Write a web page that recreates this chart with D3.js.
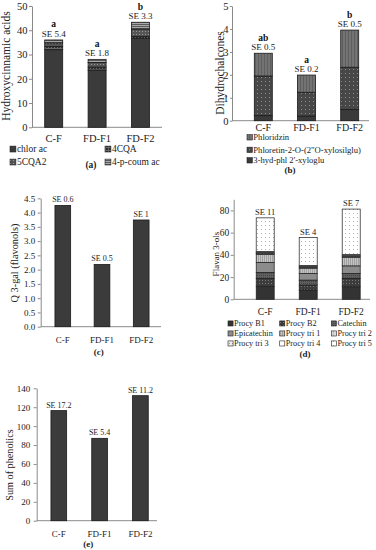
<!DOCTYPE html>
<html>
<head>
<meta charset="utf-8">
<script src="https://cdn.jsdelivr.net/npm/d3@7"></script>
<style>
  body { margin: 0; background: #fff; }
  svg { display: block; font-family: "Liberation Serif", "DejaVu Serif", serif; }
  .axis path, .axis line { stroke: #8a8a8a; }
  .axis text { fill: #222; }
</style>
</head>
<body>
<svg id="chart" width="376" height="550"></svg>
<script>
'use strict';
var categories = ["C-F", "FD-F1", "FD-F2"];

// (a) hydroxycinnamic acids, stacked bottom -> top
var hcaNames = ["chlor ac", "4CQA", "5CQA2", "4-p-coum ac"];
var chlorAc = [32.0, 23.6, 36.7];
var cqa4 = [1.3, 1.2, 0.8];
var cqa5 = [1.5, 1.9, 3.0];
var pCoumAc = [1.2, 1.3, 2.8];
var hcaSE = ["SE 5.4", "SE 1.8", "SE 3.3"];
var hcaLetters = ["a", "a", "b"];
var hcaTicks = [0, 10, 20, 30, 40, 50];

// (b) dihydrochalcones, stacked bottom -> top
var dhcNames = ["3-hyd-phl 2'-xyloglu", "Phloretin-2-O-(2\"O-xylosilglu)", "Phloridzin"];
var hydPhl = [0.22, 0.2, 0.49];
var phloretin = [1.73, 1.04, 1.84];
var phloridzin = [0.99, 0.75, 1.62];
var dhcSE = ["SE 0.5", "SE 0.2", "SE 0.5"];
var dhcLetters = ["ab", "a", "b"];
var dhcTicks = [0, 1, 2, 3, 4, 5];

// (c) flavonols
var q3gal = [4.25, 2.18, 3.74];
var q3galSE = ["SE 0.6", "SE 0.5", "SE 1"];
var q3galTicks = [0, 0.5, 1, 1.5, 2, 2.5, 3, 3.5, 4, 4.5];

// (d) flavan 3-ols, stacked bottom -> top
var flavNames = ["Procy B1", "Procy B2", "Catechin", "Epicatechin", "Procy tri 1", "Procy tri 2", "Procy tri 3", "Procy tri 4", "Procy tri 5"];
var procyB1 = [11.5, 8.3, 11.3];
var procyB2 = [7.3, 4.5, 7.5];
var catechin = [5.4, 4.5, 4.5];
var epicatechin = [9.0, 6.0, 6.8];
var procyTri1 = [7.2, 4.7, 7.5];
var procyTri2 = [1.0, 0.8, 1.0];
var procyTri3 = [0.8, 0.8, 0.8];
var procyTri4 = [0.8, 0.8, 0.8];
var procyTri5 = [30.3, 25.1, 41.0];
var flavSE = ["SE 11", "SE 4", "SE 7"];
var flavTicks = [0, 20, 40, 60, 80];

// (e) sum of phenolics
var phenolics = [116.4, 87.1, 132.2];
var phenolicsSE = ["SE 17.2", "SE 5.4", "SE 11.2"];
var phenolicsTicks = [0, 20, 40, 60, 80, 100, 120, 140];

var svg = d3.select("#chart");
var defs = svg.append("defs");

// fill patterns: base colour + small mark
function pattern(id, bg, kind, fg, size) {
    size = size || 3;
    var p = defs.append("pattern").attr("id", id)
            .attr("patternUnits", "userSpaceOnUse")
            .attr("width", size).attr("height", size);
    p.append("rect").attr("width", size).attr("height", size).attr("fill", bg);
    if (kind === "dot") {
        p.append("rect").attr("x", 1).attr("y", 1).attr("width", 1).attr("height", 1).attr("fill", fg);
    } else if (kind === "vline") {
        p.append("rect").attr("x", 0).attr("y", 0).attr("width", 1).attr("height", size).attr("fill", fg);
    } else if (kind === "hline") {
        p.append("rect").attr("x", 0).attr("y", 0).attr("width", size).attr("height", 1).attr("fill", fg);
    } else if (kind === "grid") {
        p.append("rect").attr("x", 0).attr("y", 0).attr("width", size).attr("height", 1).attr("fill", fg);
        p.append("rect").attr("x", 0).attr("y", 0).attr("width", 1).attr("height", size).attr("fill", fg);
    }
    return "url(#" + id + ")";
}

var hcaFills = [
    "#3b3b3b",
    pattern("pa2", "#2f2f2f", "grid", "#6a6a6a", 3),
    pattern("pa3", "#555", "dot", "#9a9a9a", 3),
    pattern("pa4", "#a8a8a8", "hline", "#5a5a5a", 2)
];
var dhcFills = [
    "#3a3a3a",
    pattern("pb2", "#474747", "dot", "#8c8c8c", 4),
    pattern("pb3", "#737373", "vline", "#5e5e5e", 3)
];
var flavFills = [
    "#333",
    pattern("pd2", "#3c3c3c", "dot", "#7a7a7a", 3),
    pattern("pd3", "#5f5f5f", "dot", "#454545", 2),
    "#8c8c8c",
    pattern("pd5", "#c4c4c4", "vline", "#a0a0a0", 2),
    pattern("pd6", "#dcdcdc", "vline", "#bdbdbd", 3),
    pattern("pd7", "#ececec", "dot", "#999", 3),
    "#fff",
    pattern("pd9", "#fff", "dot", "#b0b0b0", 4)
];

function drawPanel(c) {
    var g = svg.append("g");
    var y = d3.scaleLinear().domain([0, c.max]).range([c.y0, c.y1]);
    var x = d3.scaleBand().domain(categories)
            .range([c.bandStart, c.bandStart + c.step * categories.length]);

    // y axis
    var yAxis = d3.axisLeft(y).tickValues(c.ticks).tickSize(c.tickLen).tickSizeOuter(0)
            .tickPadding(c.tickPad).tickFormat(d3.format(c.fmt || "d"));
    g.append("g").attr("class", "axis")
            .attr("transform", "translate(" + c.axisX + ",0)")
            .call(yAxis)
            .attr("font-family", null).attr("font-size", c.tickSize);

    // x axis line + category labels
    g.append("line").attr("x1", c.axisX).attr("x2", c.axisEnd)
            .attr("y1", c.y0).attr("y2", c.y0).attr("stroke", "#8a8a8a");
    var xa = g.append("g").attr("class", "axis")
            .attr("transform", "translate(0," + c.y0 + ")")
            .call(d3.axisBottom(x).tickSize(0).tickPadding(c.catPad))
            .attr("font-family", null).attr("font-size", c.catSize);
    xa.select(".domain").remove();

    // bars
    var rows = categories.map(function (cat, i) {
        var r = {cat: cat};
        c.series.forEach(function (s, k) { r["s" + k] = s[i]; });
        return r;
    });
    var keys = c.series.map(function (s, k) { return "s" + k; });
    var stacked = d3.stack().keys(keys)(rows);
    g.selectAll("g.layer").data(stacked).enter().append("g")
            .attr("fill", function (d, k) { return c.fills[k]; })
            .selectAll("rect").data(function (d) { return d; }).enter().append("rect")
            .attr("x", function (d) { return x(d.data.cat) + (x.bandwidth() - c.barW) / 2; })
            .attr("width", c.barW)
            .attr("y", function (d) { return y(d[1]); })
            .attr("height", function (d) { return y(d[0]) - y(d[1]); })
            .attr("stroke", "#1a1a1a").attr("stroke-width", c.strokeW || 0.8);

    var totals = rows.map(function (r) {
        return keys.reduce(function (a, k) { return a + r[k]; }, 0);
    });
    g.selectAll("text.se").data(c.se).enter().append("text")
            .attr("x", function (d, i) { return x(categories[i]) + x.bandwidth() / 2; })
            .attr("y", function (d, i) { return y(totals[i]) - 3; })
            .attr("text-anchor", "middle").attr("font-size", c.seSize).attr("fill", "#222")
            .text(function (d) { return d; });
    if (c.letters) {
        g.selectAll("text.let").data(c.letters).enter().append("text")
                .attr("x", function (d, i) { return x(categories[i]) + x.bandwidth() / 2; })
                .attr("y", function (d, i) { return y(totals[i]) - 12.5; })
                .attr("text-anchor", "middle").attr("font-size", c.seSize + 0.5)
                .attr("font-weight", "bold").attr("fill", "#111")
                .text(function (d) { return d; });
    }

    // y title (titleX is the baseline)
    g.append("text")
            .attr("transform", "translate(" + c.titleX + "," + c.titleY + ") rotate(-90)")
            .attr("text-anchor", "middle").attr("font-size", c.titleSize).attr("fill", "#222")
            .text(c.title);

    // panel letter
    g.append("text").attr("x", c.tag[0]).attr("y", c.tag[1])
            .attr("text-anchor", "middle").attr("font-size", c.tagSize || 9.5)
            .attr("font-weight", "bold").attr("fill", "#222").text(c.tag[2]);
    return g;
}

function legend(items, fills, pos, size) {
    var lg = svg.append("g");
    items.forEach(function (name, i) {
        var p = pos[i];
        lg.append("rect").attr("x", p[0]).attr("y", p[1] - size * 0.62)
                .attr("width", size * 0.62).attr("height", size * 0.62)
                .attr("fill", fills[i]).attr("stroke", "#222").attr("stroke-width", 0.6);
        lg.append("text").attr("x", p[0] + size * 0.62 + 1).attr("y", p[1])
                .attr("font-size", size).attr("fill", "#222").text(name);
    });
}

// (a)
drawPanel({
    max: 50, y0: 127.3, y1: 6, ticks: hcaTicks,
    axisX: 32, axisEnd: 162, bandStart: 32, step: 43.4, barW: 18,
    tickSize: 10.5, tickLen: 3, tickPad: 1.5, catSize: 10.5, catPad: 7,
    series: [chlorAc, cqa4, cqa5, pCoumAc], fills: hcaFills,
    se: hcaSE, seSize: 9, letters: hcaLetters,
    title: "Hydroxycinnamic acids", titleX: 10, titleY: 66, titleSize: 11.5,
    tag: [91, 168, "(a)"]
});
legend(hcaNames, hcaFills, [[10, 152], [105, 152], [10, 165], [105, 165]], 9.5);

// (b)
drawPanel({
    max: 5, y0: 120.7, y1: 6, ticks: dhcTicks,
    axisX: 232, axisEnd: 369, bandStart: 241.7, step: 43.2, barW: 18,
    tickSize: 10.5, tickLen: 2, tickPad: 1.5, catSize: 10, catPad: 3,
    series: [hydPhl, phloretin, phloridzin], fills: dhcFills,
    se: dhcSE, seSize: 9, letters: dhcLetters,
    title: "Dihydrochalcones", titleX: 224, titleY: 73, titleSize: 11.5,
    tag: [290, 173, "(b)"], tagSize: 9
});
legend(["Phloridzin", dhcNames[1], dhcNames[0]], [dhcFills[2], dhcFills[1], dhcFills[0]],
        [[247, 140], [247, 152.5], [247, 163]], 8.6);

// (c)
drawPanel({
    max: 4.5, y0: 326.7, y1: 198.3, ticks: q3galTicks, fmt: ".1f",
    axisX: 40.7, axisEnd: 161, bandStart: 43.2, step: 39.2, barW: 15.7,
    tickSize: 9, tickLen: 3, tickPad: 2.5, catSize: 9, catPad: 10,
    series: [q3gal], fills: ["#3b3b3b"],
    se: q3galSE, seSize: 8,
    title: "Q 3-gal (flavonols)", titleX: 17.5, titleY: 263, titleSize: 10.3,
    tag: [98.7, 355, "(c)"], tagSize: 9
});

// (d)
drawPanel({
    max: 90, y0: 299.3, y1: 199.3, ticks: flavTicks,
    axisX: 233.7, axisEnd: 370, bandStart: 243.7, step: 43, barW: 18,
    tickSize: 9.5, tickLen: 3, tickPad: 1.5, catSize: 9.5, catPad: 9,
    series: [procyB1, procyB2, catechin, epicatechin, procyTri1, procyTri2, procyTri3, procyTri4, procyTri5],
    fills: flavFills, strokeW: 0.7,
    se: flavSE, seSize: 8.5,
    title: "Flavan 3-ols", titleX: 219, titleY: 254, titleSize: 9,
    tag: [305, 356.5, "(d)"], tagSize: 9
});
legend(flavNames, flavFills, [
    [228, 326], [279.7, 326], [331.3, 326],
    [228, 336], [279.7, 336], [331.3, 336],
    [228, 346], [279.7, 346], [331.3, 346]
], 8.2);

// (e)
drawPanel({
    max: 140, y0: 520.7, y1: 388.3, ticks: phenolicsTicks,
    axisX: 36.7, axisEnd: 157, bandStart: 38.4, step: 40.8, barW: 15.7,
    tickSize: 9, tickLen: 3, tickPad: 3.5, catSize: 9, catPad: 10,
    series: [phenolics], fills: ["#3b3b3b"],
    se: phenolicsSE, seSize: 8,
    title: "Sum of phenolics", titleX: 12.7, titleY: 465, titleSize: 10.2,
    tag: [88.3, 547, "(e)"], tagSize: 9
});
</script>
</body>
</html>
